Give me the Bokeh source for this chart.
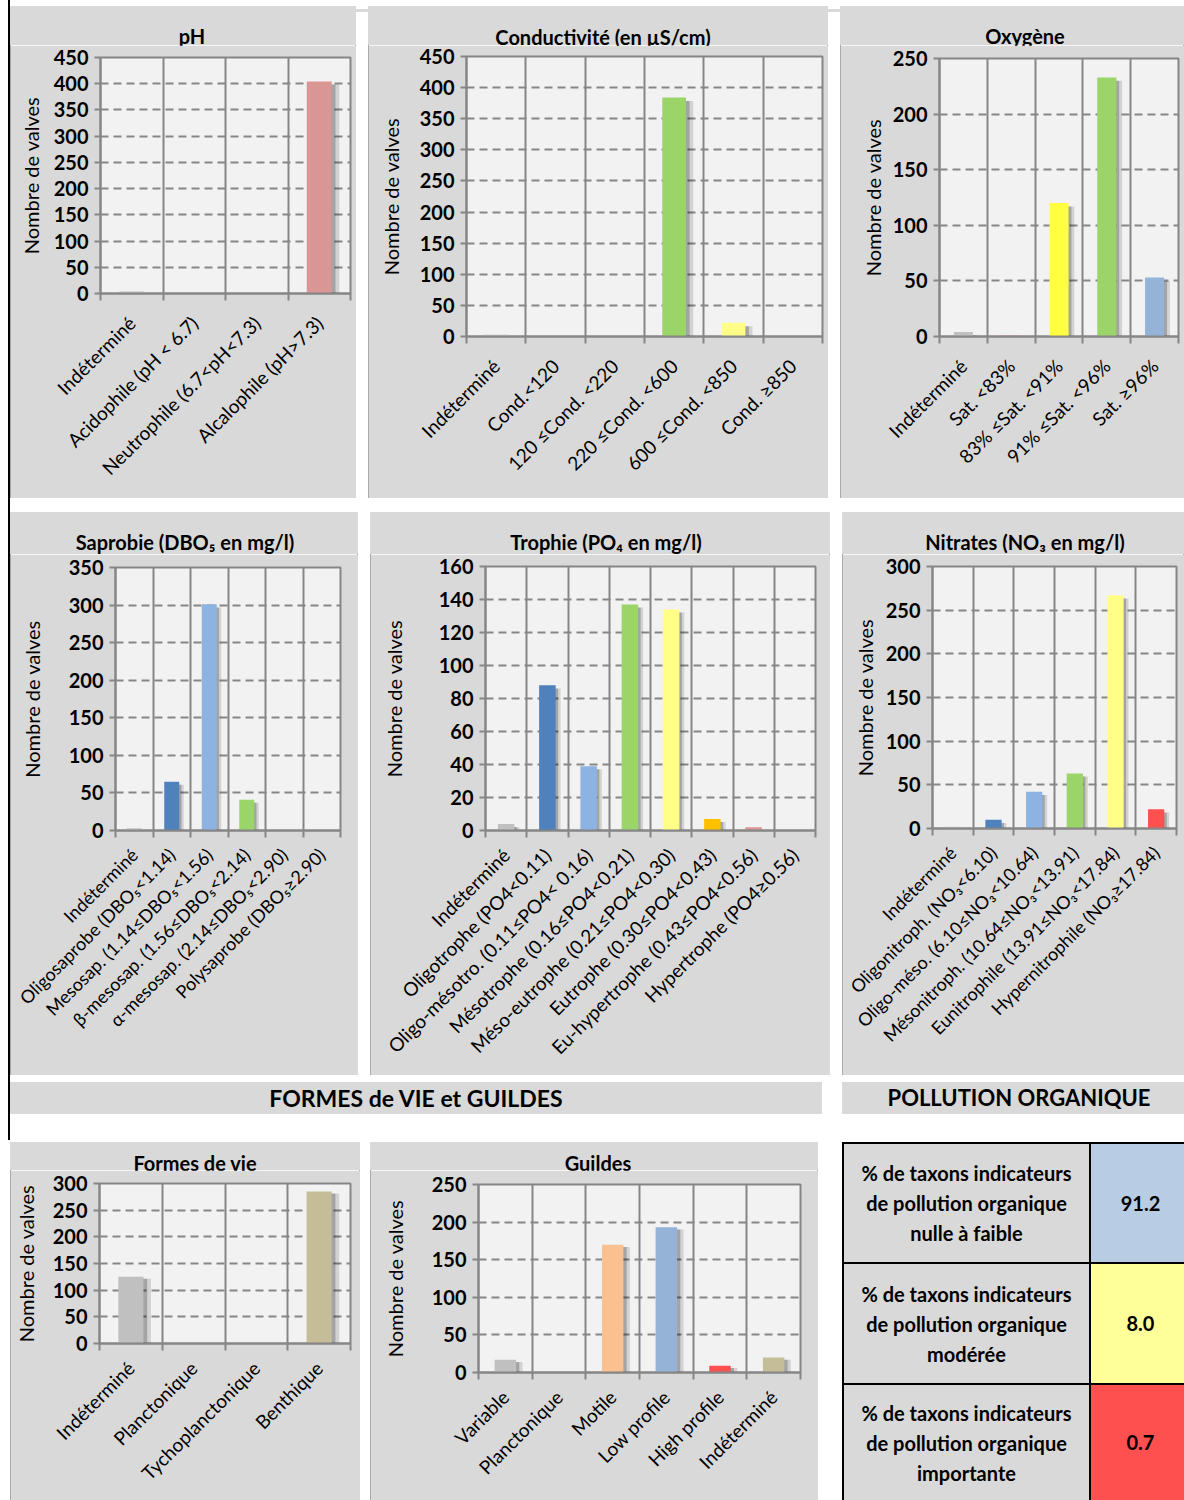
import math
from bokeh.plotting import figure
from bokeh.models import FixedTicker, Range1d, ColumnDataSource, Div, Spacer
from bokeh.layouts import row, column
from bokeh.embed import file_html
from bokeh.resources import INLINE

FONT = "Lato"
GRAY = "#c0c0c0"

# ---------------- data ----------------
ph_cats = ["Indéterminé", "Acidophile (pH < 6.7)", "Neutrophile (6.7<pH<7.3)", "Alcalophile (pH>7.3)"]
ph_vals = [4, 0, 0, 404]
ph_cols = [GRAY, "#4f81bd", "#9bd56a", "#d99694"]

cond_cats = ["Indéterminé", "Cond.<120", "120 ≤Cond. <220", "220 ≤Cond. <600", "600 ≤Cond. <850", "Cond. ≥850"]
cond_vals = [3, 1, 0, 384, 22, 0]
cond_cols = [GRAY, "#4f81bd", "#8db3e2", "#9bd56a", "#ffff88", "#ff5050"]

oxy_cats = ["Indéterminé", "Sat. <83%", "83% ≤Sat. <91%", "91% ≤Sat. <96%", "Sat. ≥96%"]
oxy_vals = [4, 1, 120, 233, 53]
oxy_cols = [GRAY, "#d99694", "#ffff40", "#9bd56a", "#95b3d7"]

sap_cats = ["Indéterminé", "Oligosaprobe (DBO₅<1.14)", "Mesosap. (1.14≤DBO₅<1.56)",
            "β-mesosap. (1.56≤DBO₅<2.14)", "α-mesosap. (2.14≤DBO₅<2.90)", "Polysaprobe (DBO₅≥2.90)"]
sap_vals = [3, 65, 301, 41, 0, 0]
sap_cols = [GRAY, "#4f81bd", "#8db3e2", "#9bd56a", "#ffc000", "#ff5050"]

tro_cats = ["Indéterminé", "Oligotrophe (PO4<0.11)", "Oligo-mésotro. (0.11≤PO4< 0.16)", "Mésotrophe (0.16≤PO4<0.21)",
            "Méso-eutrophe (0.21≤PO4<0.30)", "Eutrophe (0.30≤PO4<0.43)", "Eu-hypertrophe (0.43≤PO4<0.56)",
            "Hypertrophe (PO4≥0.56)"]
tro_vals = [4, 88, 39, 137, 134, 7, 2, 0]
tro_cols = [GRAY, "#4f81bd", "#8db3e2", "#9bd56a", "#ffff88", "#ffc000", "#d99694", "#ff5050"]

nit_cats = ["Indéterminé", "Oligonitroph. (NO₃<6.10)", "Oligo-méso. (6.10≤NO₃<10.64)",
            "Mésonitroph. (10.64≤NO₃<13.91)", "Eunitrophile (13.91≤NO₃<17.84)", "Hypernitrophile (NO₃≥17.84)"]
nit_vals = [2, 10, 42, 63, 267, 22]
nit_cols = [GRAY, "#4f81bd", "#8db3e2", "#9bd56a", "#ffff88", "#ff5050"]

fv_cats = ["Indéterminé", "Planctonique", "Tychoplanctonique", "Benthique"]
fv_vals = [125, 0, 0, 285]
fv_cols = [GRAY, "#95b3d7", "#9bd56a", "#c4bd97"]

gu_cats = ["Variable", "Planctonique", "Motile", "Low profile", "High profile", "Indéterminé"]
gu_vals = [17, 0, 170, 193, 9, 20]
gu_cols = [GRAY, "#9bd56a", "#fac090", "#95b3d7", "#ff5050", "#c4bd97"]

po_labels = ["% de taxons indicateurs<br>de pollution organique<br>nulle à faible",
             "% de taxons indicateurs<br>de pollution organique<br>modérée",
             "% de taxons indicateurs<br>de pollution organique<br>importante"]
po_values = ["91.2", "8.0", "0.7"]
po_colors = ["#b8cce4", "#ffff99", "#ff5050"]

# ---------------- helpers ----------------
LINE = "#868686"
PANEL_BG = "#d9d9d9"


def chart(cats, vals, cols, ymax, ystep, width, height, bl, br, bt, bb, standoff, ylab_standoff, xfs):
    n = len(cats)
    p = figure(width=width, height=height, x_range=Range1d(-0.5, n - 0.5), y_range=Range1d(0, ymax),
               output_backend="svg", toolbar_location=None,
               min_border_left=bl, min_border_right=br, min_border_top=bt, min_border_bottom=bb,
               background_fill_color="#f2f2f2", border_fill_color=PANEL_BG,
               outline_line_color=LINE, outline_line_width=2)
    xs = list(range(n))
    src = ColumnDataSource(dict(
        x=xs, top=vals, color=cols,
        s1=[x + 0.06 for x in xs], s2=[x + 0.12 for x in xs],
        st=[max(v - ymax * 0.012, 0) for v in vals]))
    p.vbar(x="s2", top="st", width=0.4, fill_color="black", fill_alpha=0.13, line_color=None, source=src)
    p.vbar(x="s1", top="st", width=0.4, fill_color="black", fill_alpha=0.22, line_color=None, source=src)
    p.vbar(x="x", top="top", width=0.4, fill_color="color", line_color=None, source=src)

    bounds = [x - 0.5 for x in xs] + [n - 0.5]
    xa = p.xaxis[0]
    xa.ticker = FixedTicker(ticks=xs, minor_ticks=bounds)
    xa.major_label_overrides = {x: c for x, c in zip(xs, cats)}
    xa.major_label_orientation = math.pi / 4
    xa.major_tick_out = 0
    xa.major_tick_in = 0
    xa.minor_tick_out = 7
    xa.minor_tick_in = 0
    xa.minor_tick_line_color = LINE
    xa.minor_tick_line_width = 2
    xa.axis_line_color = LINE
    xa.axis_line_width = 2
    xa.major_label_standoff = standoff
    xa.major_label_text_font = FONT
    xa.major_label_text_font_size = xfs
    xa.major_label_text_color = "black"

    ticks = list(range(0, ymax + 1, ystep))
    ya = p.yaxis[0]
    ya.ticker = FixedTicker(ticks=ticks)
    ya.major_tick_out = 6
    ya.major_tick_in = 0
    ya.minor_tick_out = 0
    ya.minor_tick_in = 0
    ya.major_tick_line_color = LINE
    ya.major_tick_line_width = 2
    ya.axis_line_color = LINE
    ya.axis_line_width = 2
    ya.major_label_standoff = 6
    ya.major_label_text_font = FONT
    ya.major_label_text_font_style = "bold"
    ya.major_label_text_font_size = "20px"
    ya.major_label_text_color = "black"
    ya.axis_label = "Nombre de valves"
    ya.axis_label_text_font = FONT
    ya.axis_label_text_font_style = "normal"
    ya.axis_label_text_font_size = "20px"
    ya.axis_label_text_color = "black"
    ya.axis_label_standoff = ylab_standoff

    p.xgrid.ticker = FixedTicker(ticks=bounds)
    p.xgrid.grid_line_color = LINE
    p.xgrid.grid_line_width = 2
    p.ygrid.ticker = FixedTicker(ticks=ticks)
    p.ygrid.grid_line_color = LINE
    p.ygrid.grid_line_width = 2
    p.ygrid.grid_line_dash = "8 5"
    return p


def panel(title, cats, vals, cols, ymax, ystep, width, height, title_h, title_cy, shift,
          bl, br, frame_top, bb, standoff, ylab_standoff, xfs="19px"):
    lh = 14
    head = Div(width=width, height=title_h, margin=0, text=(
        f'<div style="width:{width}px;height:{title_h}px;box-sizing:border-box;background:{PANEL_BG};'
        f'padding-top:{title_cy - lh // 2}px;padding-left:{2 * shift}px;text-align:center;'
        f'font-family:{FONT};font-weight:bold;font-size:20px;line-height:{lh}px;color:#000;'
        f'white-space:nowrap;overflow:visible">{title}</div>'))
    p = chart(cats, vals, cols, ymax, ystep, width, height - title_h, bl, br, frame_top - title_h, bb,
              standoff, ylab_standoff, xfs)
    return column(head, p, spacing=0,
                  styles={"outline": "1px solid #9a9a9a", "outline-offset": "-1px"})


# ---------------- row 1 ----------------
p_ph = panel("pH", ph_cats, ph_vals, ph_cols, 450, 50, 346, 492, 39, 30, 9, 90, 6, 51, 205, 19, 8)
p_cond = panel("Conductivité (en µS/cm)", cond_cats, cond_vals, cond_cols, 450, 50, 460, 492, 39, 31, 5,
               98, 6, 50, 162, 19, 14)
p_oxy = panel("Oxygène", oxy_cats, oxy_vals, oxy_cols, 250, 50, 344, 492, 39, 30, 13, 99, 6, 52, 162, 19, 5)
row1 = row(p_ph, Spacer(width=12), p_cond, Spacer(width=12), p_oxy)

# ---------------- row 2 ----------------
p_sap = panel("Saprobie (DBO₅ en mg/l)", sap_cats, sap_vals, sap_cols, 350, 50, 348, 563, 42, 30, 1,
              105, 18, 55, 245, 14, 22, "18px")
p_tro = panel("Trophie (PO₄ en mg/l)", tro_cats, tro_vals, tro_cols, 160, 20, 460, 563, 42, 30, 6,
              115, 15, 54, 245, 14, 30)
p_nit = panel("Nitrates (NO₃ en mg/l)", nit_cats, nit_vals, nit_cols, 300, 50, 342, 563, 42, 30, 12,
              90, 8, 54, 247, 14, 6, "18px")
row2 = row(p_sap, Spacer(width=12), p_tro, Spacer(width=12), p_nit)


# ---------------- row 3 (section headers) ----------------
def header(text, w, pad_left=0, size=23):
    return Div(width=w, height=32, margin=0, text=(
        f'<div style="width:{w}px;height:32px;background:{PANEL_BG};font-family:{FONT};font-weight:bold;'
        f'font-size:{size}px;line-height:32px;text-align:center;color:#000;padding-left:{pad_left}px;'
        f'box-sizing:border-box;">{text}</div>'))


row3 = row(header("FORMES de VIE et GUILDES", 812), Spacer(width=20),
           header("POLLUTION ORGANIQUE", 342, 12, 22))

# ---------------- row 4 ----------------
p_fv = panel("Formes de vie", fv_cats, fv_vals, fv_cols, 300, 50, 350, 358, 28, 21, 10, 82, 10, 41, 157, 14, 12)
p_gu = panel("Guildes", gu_cats, gu_vals, gu_cols, 250, 50, 448, 358, 28, 21, 4, 108, 18, 42, 128, 14, 22)

rows_html = ""
row_heights = [120, 121, 117]
for lab, val, col, rh in zip(po_labels, po_values, po_colors, row_heights):
    rows_html += (
        f'<tr style="height:{rh}px">'
        f'<td style="width:247px;background:{PANEL_BG};border:2px solid #000;'
        f'text-align:center;vertical-align:middle;line-height:30px;padding:0">{lab}</td>'
        f'<td style="background:{col};border:2px solid #000;border-right:none;text-align:center;'
        f'vertical-align:middle;padding:0 0 0 6px">{val}</td></tr>')
table_html = (
    f'<table style="border-collapse:collapse;width:342px;font-family:{FONT};font-weight:bold;'
    f'font-size:20px;color:#000;table-layout:fixed;margin:0">{rows_html}</table>')
d_table = Div(width=342, height=358, margin=0, text=table_html)

row4 = row(p_fv, Spacer(width=10), p_gu, Spacer(width=24), d_table)

top_band = Div(width=1174, height=3, margin=0,
               text=f'<div style="width:1174px;height:3px;background:{PANEL_BG}"></div>')
content = column(top_band, Spacer(height=3), row1, Spacer(height=14), row2, Spacer(height=7), row3,
                 Spacer(height=28), row4)
black_line = Div(width=2, height=1140, margin=0,
                 text='<div style="width:2px;height:1140px;background:#000"></div>')
layout = row(Spacer(width=8), black_line, content)

open("out.html", "w").write(file_html(layout, INLINE))
